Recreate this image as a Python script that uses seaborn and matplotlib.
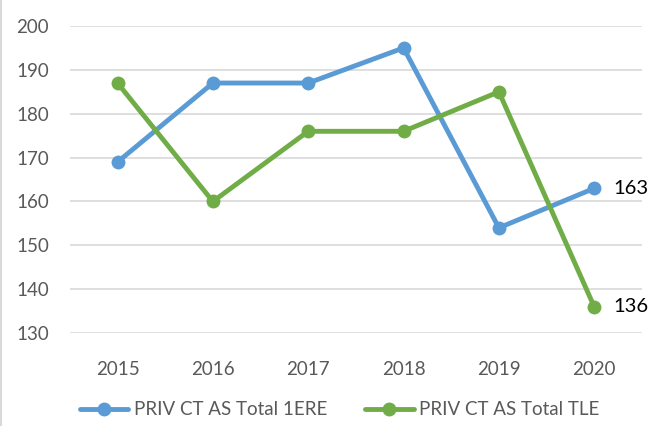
import numpy as np
import pandas as pd
import matplotlib
matplotlib.use("Agg")
import matplotlib.pyplot as plt
import seaborn as sns
from matplotlib.lines import Line2D

# ── Data ──────────────────────────────────────────────────────────────
YEARS      = [2015, 2016, 2017, 2018, 2019, 2020]
TOTAL_1ERE = [169, 187, 187, 195, 154, 163]
TOTAL_TLE  = [187, 160, 176, 176, 185, 136]
SERIES     = ["PRIV CT AS Total 1ERE", "PRIV CT AS Total TLE"]
COLORS     = ["#5B9BD5", "#70AD47"]
Y_TICKS    = [130, 140, 150, 160, 170, 180, 190, 200]

df = pd.DataFrame({
    "year": YEARS * 2,
    "value": TOTAL_1ERE + TOTAL_TLE,
    "series": [SERIES[0]] * len(YEARS) + [SERIES[1]] * len(YEARS),
})

sns.set_theme(style="white")
plt.rcParams["font.family"] = ["Lato", "DejaVu Sans"]

fig = plt.figure(figsize=(6.53, 4.26), dpi=100)
ax = fig.add_axes([0.107, 0.218, 0.876, 0.721])

sns.lineplot(data=df, x="year", y="value", hue="series", palette=COLORS,
             marker="o", markersize=10, markeredgewidth=0, linewidth=3.5,
             legend=False, ax=ax)

# end-of-line labels
for vals in (TOTAL_1ERE, TOTAL_TLE):
    ax.annotate(str(vals[-1]), (YEARS[-1], vals[-1]), xytext=(14, 0),
                textcoords="offset points", va="center", ha="left",
                fontsize=14.5, color="black")

ax.set_xlim(YEARS[0] - 0.5, YEARS[-1] + 0.5)
ax.set_ylim(Y_TICKS[0], Y_TICKS[-1])
ax.set_xticks(YEARS)
ax.set_yticks(Y_TICKS)
ax.tick_params(axis="both", length=0, labelsize=13.5, labelcolor="#595959")
ax.tick_params(axis="x", pad=20)
ax.tick_params(axis="y", pad=15)
ax.set_xlabel("")
ax.set_ylabel("")
ax.yaxis.grid(True, color="#D9D9D9", linewidth=1.2)
ax.set_axisbelow(True)
for s in ax.spines.values():
    s.set_visible(False)

# legend at bottom
handles = [Line2D([], [], color=c, linewidth=3.5, marker="o", markersize=9)
           for c in COLORS]
fig.legend(handles, SERIES, loc="lower center", ncol=2, frameon=False,
           bbox_to_anchor=(0.52, -0.022), fontsize=13.5, handlelength=2.6,
           columnspacing=2.0, handletextpad=0.3, labelcolor="#595959")

# faint chart border on the left edge
fig.add_artist(Line2D([0.002, 0.002], [0, 1], transform=fig.transFigure,
                      color="#D9D9D9", linewidth=1.5))

fig.savefig("out.png", dpi=100)
